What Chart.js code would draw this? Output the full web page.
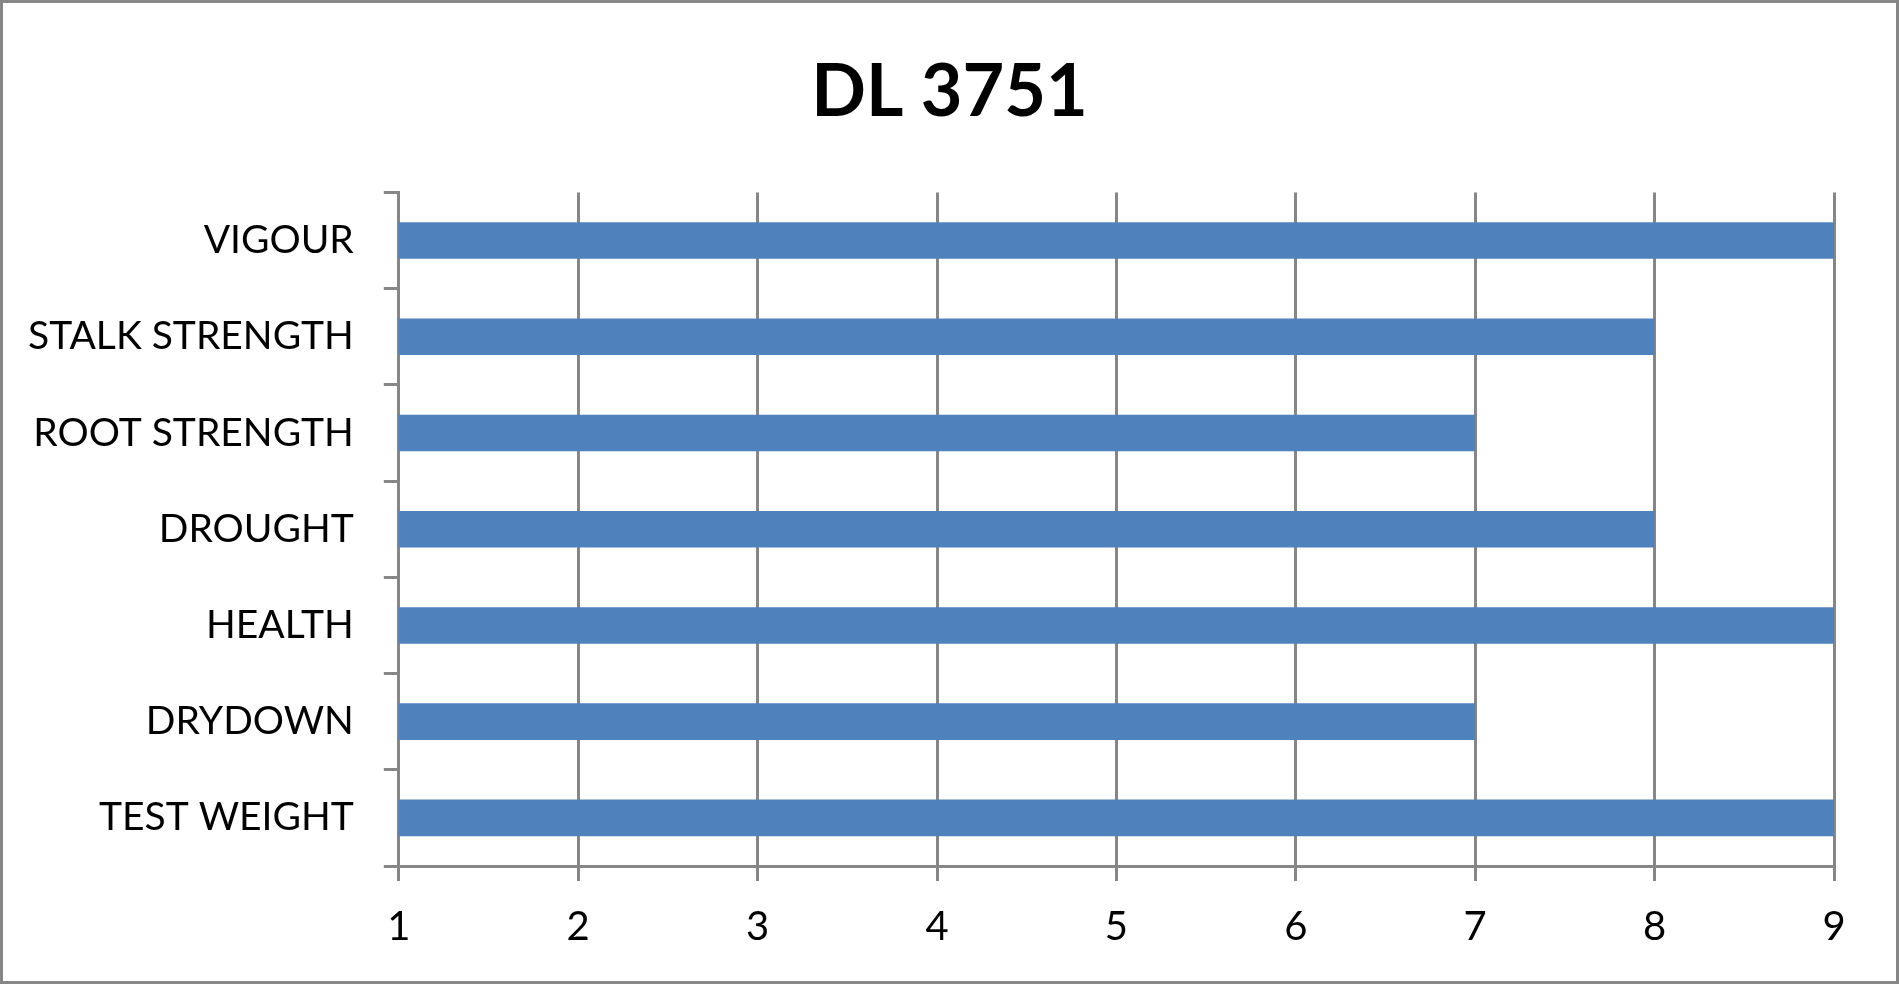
<!DOCTYPE html>
<html>
<head>
<meta charset="utf-8">
<title>DL 3751</title>
<script src="https://cdn.jsdelivr.net/npm/chart.js@4.4.1/dist/chart.umd.min.js"></script>
<style>
    html, body {
        margin: 0;
        padding: 0;
        background: #ffffff;
    }
    .chart-box {
        box-sizing: border-box;
        width: 1899px;
        height: 984px;
        border: 3px solid #868686;
        background: #ffffff;
    }
    #chart {
        display: block;
    }
</style>
</head>
<body>
<div class="chart-box">
    <canvas id="chart" width="1893" height="978"></canvas>
</div>
<script>
const categories = ["VIGOUR", "STALK STRENGTH", "ROOT STRENGTH", "DROUGHT", "HEALTH", "DRYDOWN", "TEST WEIGHT"];
const scores = [9, 8, 7, 8, 9, 7, 9];
const scoreTicks = [1, 2, 3, 4, 5, 6, 7, 8, 9];

const GRID = "#868686";
const BAR = "#4f81bd";
const FONT = "Lato, 'Open Sans', sans-serif";

// title sits in the middle of the whole frame, not of the padded area
const centerTitle = {
    id: "centerTitle",
    afterLayout: (chart) => {
        const titleBox = chart.titleBlock;
        if (titleBox) {
            titleBox.left = 0;
            titleBox.right = chart.width;
        }
    }
};

const chartEle = document.getElementById("chart");

new Chart(chartEle, {
    type: "bar",
    data: {
        labels: categories,
        datasets: [{
            label: "DL 3751",
            data: scores,
            backgroundColor: BAR,
            borderWidth: 0,
            barPercentage: 0.38,
            categoryPercentage: 1
        }]
    },
    plugins: [centerTitle],
    options: {
        indexAxis: "y",
        responsive: false,
        animation: false,
        layout: {
            padding: { top: 0, right: 62, bottom: 8, left: -5 }
        },
        plugins: {
            legend: { display: false },
            tooltip: { enabled: false },
            title: {
                display: true,
                text: "DL 3751",
                color: "#000000",
                font: { family: FONT, size: 72, weight: "bold", lineHeight: 1.2 },
                padding: { top: 47, bottom: 56 }
            }
        },
        scales: {
            x: {
                min: scoreTicks[0],
                max: scoreTicks[scoreTicks.length - 1],
                afterBuildTicks: (scale) => {
                    scale.ticks = scoreTicks.map(v => ({ value: v }));
                },
                grid: {
                    color: GRID,
                    lineWidth: 3,
                    drawTicks: true,
                    tickLength: 15,
                    tickColor: GRID
                },
                border: { color: GRID, width: 3 },
                ticks: {
                    color: "#000000",
                    padding: 22,
                    font: { family: FONT, size: 40 }
                }
            },
            y: {
                grid: {
                    drawOnChartArea: false,
                    drawTicks: true,
                    tickLength: 15,
                    color: GRID,
                    lineWidth: 3
                },
                border: { color: GRID, width: 3 },
                ticks: {
                    color: "#000000",
                    padding: 30,
                    font: { family: FONT, size: 39 }
                }
            }
        }
    }
});
</script>
</body>
</html>
